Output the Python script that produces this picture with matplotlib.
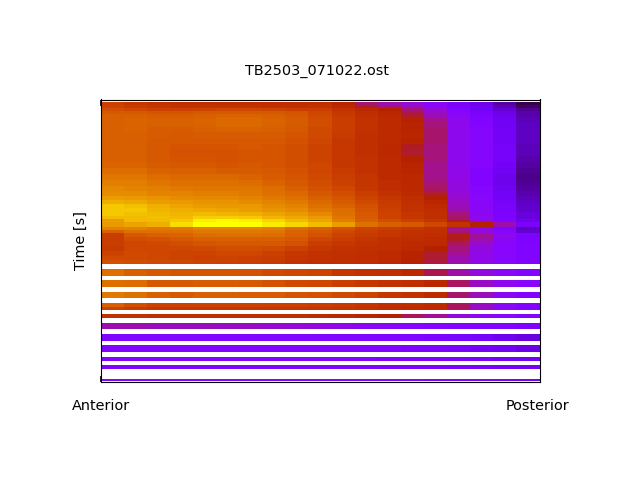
import numpy as np
import matplotlib
matplotlib.use("Agg")
import matplotlib.pyplot as plt

nan = np.nan
gap = [nan] * 19

title = "TB2503_071022.ost"
x_ticks = [0, 18.9]
x_labels = ["Anterior", "Posterior"]

# time at each row edge, top of the picture is 0
time_edges = [0, 3, 6, 9, 12, 15, 20, 25, 30, 36, 42, 48, 54, 60, 66, 72, 78, 84, 89, 94, 98, 102, 106, 110, 114,
              117, 120, 125, 128, 131, 135, 139, 144, 149, 154, 158, 162,
              167, 174, 178, 185, 190, 196, 201, 205, 208, 212, 216, 221, 227, 232, 239, 243, 250, 255, 259, 263, 267, 277, 279]

values = [
    [.63, .60, .58, .57, .57, .57, .57, .56, .56, .57, .52, .43, .38, .34, .28, .23, .19, .11, .05],
    [.64, .61, .59, .58, .58, .58, .58, .57, .57, .58, .54, .47, .42, .36, .30, .24, .20, .13, .07],
    [.67, .65, .63, .63, .64, .65, .65, .64, .62, .62, .58, .54, .50, .42, .34, .26, .21, .16, .10],
    [.70, .70, .69, .69, .70, .70, .70, .70, .69, .65, .60, .56, .53, .45, .36, .28, .23, .18, .12],
    [.72, .72, .71, .71, .72, .73, .73, .72, .70, .66, .61, .57, .54, .47, .37, .29, .24, .19, .12],
    [.72, .73, .72, .72, .73, .74, .74, .73, .71, .67, .62, .58, .55, .51, .41, .31, .25, .20, .13],
    [.72, .73, .72, .72, .73, .74, .74, .73, .71, .67, .62, .58, .55, .52, .42, .31, .26, .20, .14],
    [.72, .73, .71, .71, .72, .73, .73, .72, .70, .66, .62, .58, .55, .52, .43, .31, .27, .21, .14],
    [.72, .72, .71, .70, .71, .71, .71, .71, .69, .66, .61, .57, .55, .53, .43, .31, .27, .21, .14],
    [.72, .72, .70, .70, .70, .70, .70, .70, .68, .65, .60, .57, .55, .52, .43, .31, .27, .21, .14],
    [.72, .72, .70, .69, .69, .69, .70, .69, .67, .64, .60, .57, .54, .48, .42, .31, .27, .22, .13],
    [.72, .72, .70, .68, .68, .68, .69, .69, .67, .64, .60, .57, .54, .47, .42, .31, .27, .22, .13],
    [.72, .72, .70, .69, .69, .68, .69, .69, .67, .64, .60, .58, .55, .50, .42, .31, .27, .22, .12],
    [.73, .73, .71, .70, .70, .69, .70, .69, .67, .65, .60, .58, .55, .52, .41, .31, .27, .21, .11],
    [.75, .75, .73, .72, .72, .71, .71, .70, .68, .65, .61, .58, .55, .53, .41, .32, .26, .20, .10],
    [.77, .77, .75, .74, .74, .74, .73, .71, .69, .66, .62, .59, .55, .54, .41, .32, .26, .19, .09],
    [.79, .79, .77, .76, .76, .76, .75, .73, .70, .67, .63, .59, .56, .54, .42, .33, .26, .19, .10],
    [.81, .80, .79, .78, .77, .77, .77, .75, .72, .68, .65, .60, .56, .54, .44, .33, .27, .20, .11],
    [.82, .82, .80, .80, .79, .79, .78, .76, .74, .70, .67, .62, .58, .55, .47, .34, .27, .21, .12],
    [.85, .84, .83, .82, .81, .81, .80, .78, .76, .72, .69, .64, .60, .56, .50, .35, .28, .21, .13],
    [.88, .87, .85, .84, .83, .83, .82, .80, .78, .74, .71, .66, .61, .57, .53, .36, .28, .22, .14],
    [.92, .91, .88, .86, .85, .84, .84, .82, .80, .76, .73, .68, .62, .58, .55, .37, .29, .23, .15],
    [.92, .92, .89, .88, .87, .86, .85, .83, .82, .78, .75, .69, .63, .58, .56, .38, .29, .23, .15],
    [.92, .91, .90, .89, .90, .89, .88, .86, .84, .81, .76, .70, .64, .59, .57, .42, .30, .24, .17],
    [.90, .90, .91, .90, .93, .93, .92, .89, .87, .84, .77, .71, .64, .60, .57, .43, .31, .24, .17],
    [.85, .90, .90, .92, .98, .99, .98, .94, .90, .86, .79, .72, .67, .63, .59, .48, .33, .25, .19],
    [.84, .86, .88, .95, 1.0, 1.0, 1.0, .97, .94, .90, .85, .76, .72, .70, .65, .58, .50, .38, .24],
    [.80, .80, .78, .78, .80, .80, .80, .79, .75, .72, .68, .64, .62, .60, .57, .40, .32, .26, .14],
    [.72, .76, .76, .76, .78, .78, .78, .77, .73, .70, .66, .62, .60, .58, .57, .42, .33, .27, .16],
    [.62, .70, .72, .73, .75, .76, .76, .75, .72, .68, .64, .61, .59, .57, .56, .49, .41, .31, .24],
    [.62, .67, .68, .70, .72, .72, .72, .72, .70, .65, .62, .59, .57, .56, .55, .48, .38, .30, .24],
    [.62, .65, .66, .67, .69, .70, .70, .70, .68, .62, .60, .58, .56, .55, .55, .44, .35, .28, .25],
    [.61, .65, .65, .65, .66, .67, .67, .66, .63, .60, .58, .57, .56, .54, .50, .42, .33, .28, .25],
    [.64, .66, .65, .64, .64, .65, .65, .63, .60, .58, .57, .56, .55, .52, .47, .40, .32, .28, .25],
    [.66, .66, .65, .64, .63, .64, .63, .62, .59, .58, .57, .56, .55, .52, .47, .38, .32, .28, .25],
    [.68, .67, .66, .65, .64, .63, .62, .61, .58, .57, .57, .56, .54, .51, .46, .38, .32, .28, .25],
    gap,
    [.76, .72, .70, .69, .69, .69, .68, .66, .65, .64, .60, .58, .57, .54, .45, .39, .33, .29, .26],
    gap,
    [.76, .75, .70, .70, .71, .71, .70, .68, .66, .65, .62, .60, .58, .56, .53, .44, .36, .31, .28],
    gap,
    [.78, .76, .72, .70, .72, .72, .71, .71, .69, .68, .66, .64, .60, .58, .55, .43, .37, .30, .26],
    gap,
    [.72, .67, .64, .64, .64, .64, .64, .63, .63, .62, .61, .59, .57, .56, .55, .44, .36, .29, .26],
    [.64, .62, .60, .60, .60, .60, .60, .60, .60, .60, .59, .58, .56, .55, .54, .44, .36, .29, .26],
    gap,
    [.58, .58, .57, .57, .57, .57, .56, .56, .56, .55, .54, .52, .50, .44, .40, .33, .30, .28, .26],
    gap,
    [.38, .38, .37, .37, .37, .36, .36, .35, .34, .33, .32, .30, .29, .28, .27, .26, .25, .25, .24],
    gap,
    [.25, .25, .25, .25, .25, .25, .25, .25, .25, .25, .25, .25, .25, .25, .24, .23, .22, .19, .17],
    gap,
    [.25, .25, .25, .25, .25, .25, .25, .25, .25, .25, .25, .25, .25, .24, .24, .23, .21, .20, .18],
    gap,
    [.25, .25, .25, .25, .25, .25, .25, .25, .25, .25, .25, .25, .24, .24, .24, .23, .22, .21, .20],
    gap,
    [.25, .25, .25, .25, .25, .25, .25, .25, .25, .25, .25, .25, .24, .24, .24, .23, .22, .21, .20],
    gap,
    [.25, .25, .25, .25, .25, .25, .25, .25, .25, .25, .25, .25, .25, .25, .24, .24, .23, .22, .21],
]

fig = plt.figure(figsize=(6.4, 4.8), dpi=100)
ax = fig.add_axes([100.5 / 640, 98 / 480, 439 / 640, 282.5 / 480])

mesh = ax.pcolormesh(np.arange(20), time_edges, np.ma.masked_invalid(values),
                     cmap="gnuplot", vmin=0, vmax=1, antialiased=False)

ax.set_xlim(0, 19)
ax.set_ylim(279.5, -2.5)
ax.set_xticks(x_ticks)
ax.set_xticklabels(x_labels, fontsize=10.4)
ax.set_yticks([])
ax.tick_params(axis="x", direction="in", length=4, width=1.2, pad=12.2, top=True)
# only the left end shows its tick marks
right_tick = ax.xaxis.get_major_ticks()[1]
right_tick.tick1line.set_visible(False)
right_tick.tick2line.set_visible(False)
ax.set_ylabel("Time [s]", fontsize=10.4, labelpad=9)
ax.set_title(title, fontsize=10.4, pad=17.5, x=0.4935)

fig.savefig("out.png", dpi=100)
